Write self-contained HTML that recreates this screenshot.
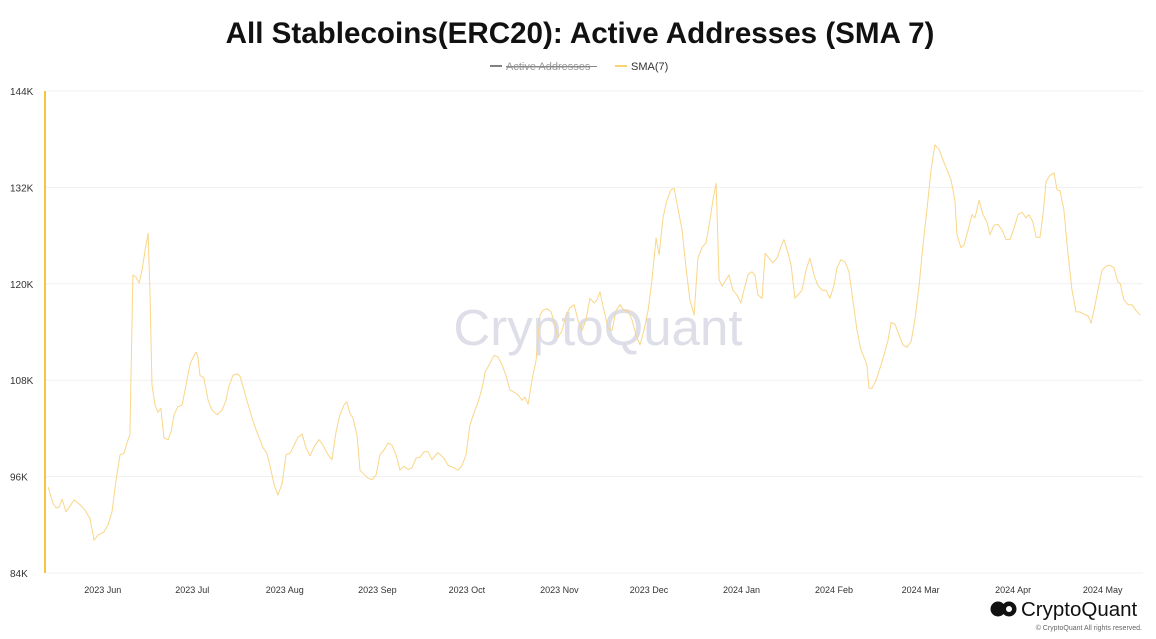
<!DOCTYPE html>
<html><head><meta charset="utf-8"><style>
body{margin:0;background:#fff;font-family:"Liberation Sans",sans-serif;}
svg text{font-family:"Liberation Sans",sans-serif;}
</style></head><body>
<svg id="chart" width="1156" height="634" viewBox="0 0 1156 634" xmlns="http://www.w3.org/2000/svg">
<text x="580" y="43" text-anchor="middle" font-size="29.6" font-weight="bold" fill="#111">All Stablecoins(ERC20): Active Addresses (SMA 7)</text>
<g>
<line x1="490" y1="66" x2="502" y2="66" stroke="#555" stroke-width="1.5"/>
<text x="506" y="70" font-size="11" fill="#999" text-decoration="line-through">Active Addresses</text>
<line x1="506" y1="66.5" x2="597" y2="66.5" stroke="#888" stroke-width="1"/>
</g>
<g>
<line x1="615" y1="66" x2="627" y2="66" stroke="#f5c542" stroke-width="1.5"/>
<text x="631" y="70" font-size="11" fill="#333">SMA(7)</text>
</g>
<text x="598" y="345" text-anchor="middle" font-size="51" fill="#dedee8">CryptoQuant</text>
<g id="grid"></g>
<g id="yticks"></g>
<g id="xticks"></g>
<rect x="44" y="91" width="2" height="482" fill="#f5c542"/>
<path id="line" fill="none" stroke="#f9d688" stroke-width="1" stroke-linejoin="round"/>
<g>
<circle cx="998" cy="609" r="7.5" fill="#111"/><circle cx="1009" cy="609" r="7.5" fill="#111"/><circle cx="1009" cy="609" r="3" fill="#fff"/>
<text x="1021" y="616" font-size="20.5" fill="#111">CryptoQuant</text>
<text x="1142" y="630" font-size="7" fill="#666" text-anchor="end">© CryptoQuant All rights reserved.</text>
</g>
</svg>
<script>
const days=[0.7,2.3,3.4,4.4,5.4,6.7,8.0,9.4,11.4,13.1,14.7,16.1,17.4,19.4,20.8,22.1,23.5,24.8,26.1,27.5,28.1,29.1,30.2,31.2,32.2,33.2,34.2,34.8,35.5,36.5,37.5,38.5,39.5,40.9,41.9,42.9,44.2,45.6,46.9,48.2,49.2,50.3,50.9,51.6,52.9,54.3,55.6,57.3,59.0,60.3,61.3,62.6,64.0,65.0,66.0,67.3,69.0,70.4,71.7,72.7,74.0,75.0,76.4,77.7,79.1,80.4,81.7,83.1,84.4,85.8,87.1,88.4,90.1,91.5,92.8,94.5,95.8,97.2,98.5,99.8,100.8,101.8,102.8,104.2,105.2,106.5,107.9,109.2,110.6,111.9,113.2,114.6,115.9,117.3,118.6,119.9,121.3,122.6,124.0,125.3,126.6,128.0,129.3,131.3,133.3,134.7,136.7,138.0,139.4,140.7,142.0,143.4,144.7,146.1,147.1,148.7,150.1,151.4,152.8,154.1,155.4,156.8,158.1,159.5,160.5,161.5,162.8,164.2,165.5,166.5,167.8,169.2,170.5,171.5,172.9,174.2,175.5,176.9,178.2,179.6,180.9,182.2,183.6,184.6,185.6,186.9,188.3,189.6,191.0,192.3,193.6,195.0,196.3,197.7,199.0,200.3,201.7,203.0,204.4,205.4,206.7,208.0,209.4,210.4,211.7,213.1,214.4,215.7,217.1,218.4,219.8,221.1,222.4,223.4,224.5,225.5,226.5,227.8,228.8,230.1,231.5,232.8,233.8,235.2,236.5,237.5,238.5,239.9,240.9,242.2,243.5,244.9,246.2,247.2,248.6,249.6,250.9,251.9,253.3,254.6,255.9,257.3,258.6,260.0,261.3,262.6,264.0,265.0,266.3,267.7,269.0,270.3,271.7,273.0,274.4,275.0,275.7,276.7,278.1,279.4,280.7,282.1,283.1,284.4,285.8,287.1,288.4,289.8,291.1,292.5,293.8,295.1,296.5,297.8,299.2,300.5,301.8,303.2,304.5,305.2,306.5,307.5,308.9,310.2,311.2,312.6,313.9,315.2,316.2,317.6,318.9,320.3,321.6,322.9,324.3,325.6,327.0,328.3,329.3,330.6,331.7,333.0,334.0,335.0,336.3,337.7,338.7,339.7,341.0,342.4,343.7,345.1,346.4,347.7,349.1,350.1,351.1,352.4,353.8,355.1,356.4,357.8,359.1,359.8,361.1,362.5,363.8,365.1,366.5];
const values=[94.7,92.7,92.1,92.2,93.2,91.6,92.3,93.1,92.5,91.8,90.8,88.1,88.7,89.1,90.0,91.6,95.6,98.7,98.9,100.6,101.2,121.1,120.8,120.1,121.7,124.2,126.3,119.2,107.4,104.9,104.0,104.5,100.8,100.6,101.6,103.7,104.7,104.9,107.4,109.9,110.8,111.5,110.9,108.6,108.3,105.5,104.3,103.7,104.3,105.5,107.3,108.6,108.8,108.5,107.2,105.5,103.3,101.8,100.6,99.6,98.9,97.4,95.0,93.7,95.1,98.7,98.9,99.9,100.9,101.3,99.6,98.6,99.9,100.6,99.9,98.7,98.1,101.6,103.7,104.9,105.3,103.9,103.3,101.2,96.8,96.3,95.8,95.6,96.2,98.7,99.3,100.2,99.9,98.7,96.8,97.3,96.9,97.1,98.3,98.4,99.1,99.1,98.1,99.0,98.3,97.4,97.1,96.8,97.4,98.7,102.4,104.0,105.2,107.0,109.0,110.1,111.1,110.9,109.9,108.6,106.8,106.5,106.2,105.5,105.9,105.0,108.0,110.5,116.1,116.7,116.9,116.5,114.9,113.3,114.2,116.1,117.0,117.4,115.5,114.2,115.5,118.2,117.6,118.0,119.0,116.7,114.5,114.2,116.7,117.4,116.7,116.7,115.5,113.6,112.4,114.2,116.7,120.5,125.7,123.6,128.2,130.4,131.7,131.9,129.4,126.7,122.0,118.0,116.1,123.2,124.5,125.1,127.9,130.4,132.5,120.5,119.7,120.5,121.1,119.2,118.6,117.6,119.2,121.2,121.5,121.1,118.6,118.2,123.8,123.2,122.6,123.2,124.6,125.5,123.8,122.3,118.2,118.6,119.2,121.7,123.2,121.1,119.8,119.2,119.2,118.2,119.8,122.0,123.0,122.7,121.5,118.0,114.2,111.8,110.5,109.9,107.0,107.0,108.0,109.5,111.1,113.0,115.2,115.0,113.6,112.4,112.1,112.8,115.5,119.8,124.8,129.2,134.2,137.3,136.7,135.4,134.2,132.9,130.4,126.1,124.5,124.8,126.7,128.6,128.2,130.4,128.6,127.7,126.1,127.3,127.4,126.7,125.5,125.5,126.9,128.6,128.9,128.2,128.6,127.7,125.8,125.8,128.6,132.7,133.5,133.8,131.7,131.6,129.2,123.6,119.2,116.5,116.5,116.2,116.0,115.1,116.7,119.2,121.7,122.2,122.3,122.0,120.2,120.1,118.0,117.4,117.4,116.7,116.1];
const yTicks=[84,96,108,120,132,144];
const monthLabels=["2023 Jun","2023 Jul","2023 Aug","2023 Sep","2023 Oct","2023 Nov","2023 Dec","2024 Jan","2024 Feb","2024 Mar","2024 Apr","2024 May"];
const monthDays=[19,49,80,111,141,172,202,233,264,293,324,354];
const X0=46,X1=1143,Y0=573,Y1=91,DMAX=367.5,VMIN=84,VMAX=144;
const xs=d=>X0+(d/DMAX)*(X1-X0);
const ys=v=>Y0-(v-VMIN)/(VMAX-VMIN)*(Y0-Y1);
const NS="http://www.w3.org/2000/svg";
const grid=document.getElementById('grid'),yt=document.getElementById('yticks'),xt=document.getElementById('xticks');
yTicks.forEach(t=>{
 const l=document.createElementNS(NS,'line');
 l.setAttribute('x1',X0);l.setAttribute('x2',X1);l.setAttribute('y1',ys(t));l.setAttribute('y2',ys(t));
 l.setAttribute('stroke','#f0f0f0');l.setAttribute('stroke-width','1');
 
 
 grid.appendChild(l);
 const tx=document.createElementNS(NS,'text');
 tx.setAttribute('x',10);tx.setAttribute('y',ys(t)+4);tx.setAttribute('font-size','10');tx.setAttribute('fill','#333');
 tx.textContent=t+'K';
 
 
 yt.appendChild(tx);
});
monthLabels.forEach((m,i)=>{
 const tx=document.createElementNS(NS,'text');
 tx.setAttribute('x',xs(monthDays[i]));tx.setAttribute('y',593);tx.setAttribute('font-size','9');tx.setAttribute('fill','#333');tx.setAttribute('text-anchor','middle');
 tx.textContent=m;
 
 
 xt.appendChild(tx);
});
document.getElementById('line').setAttribute('d',values.map((v,i)=>(i?'L':'M')+xs(days[i]).toFixed(1)+' '+ys(v).toFixed(1)).join(' '));
</script>
</body></html>
